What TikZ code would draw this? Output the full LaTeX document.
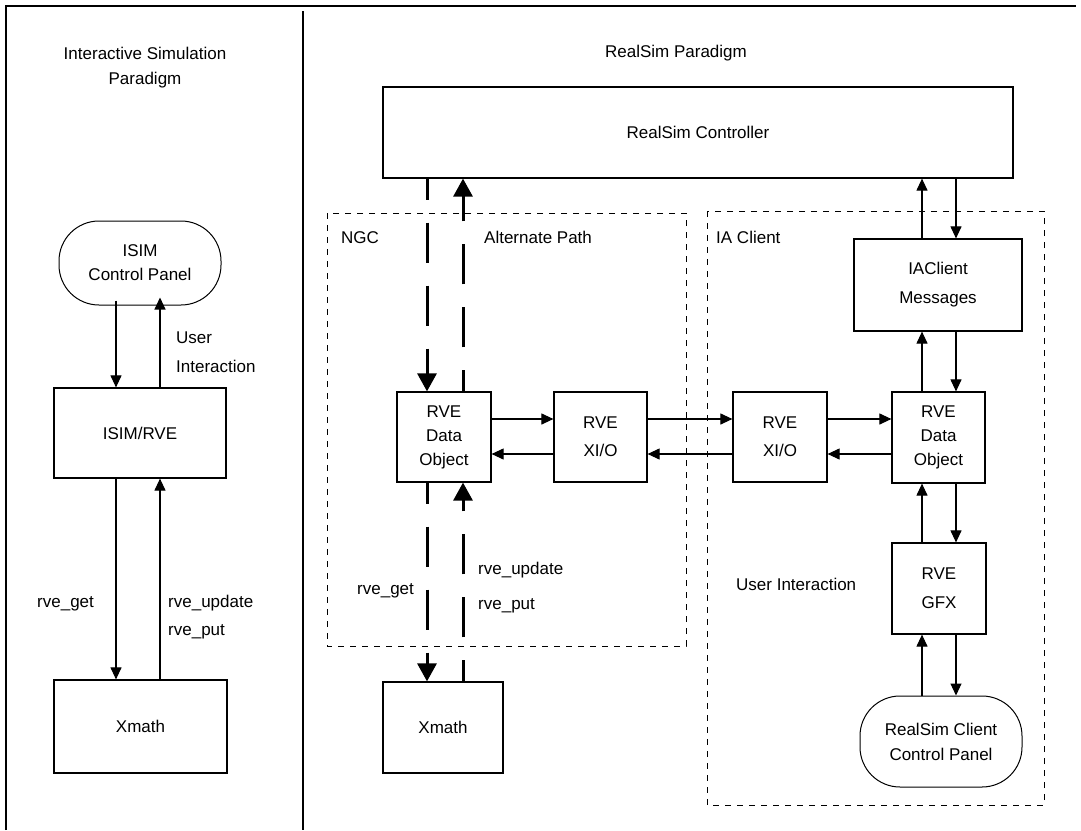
\documentclass[tikz,border=0pt]{standalone}
\usepackage{fontspec}
\setmainfont{Liberation Sans}
\usetikzlibrary{arrows.meta}
\begin{document}
\begin{tikzpicture}[x=1pt,y=-1pt,
  every node/.style={font=\fontsize{17}{24}\selectfont},
  box/.style={draw, line width=1.2pt, inner sep=0pt, align=center},
  panel/.style={draw, line width=1pt, inner sep=0pt, align=center, rounded corners=40pt},
  group/.style={draw, line width=1pt, dash pattern=on 6pt off 6pt},
  lbl/.style={inner sep=0pt, text height=12pt, text depth=0pt, anchor=west},
  arr/.style={line width=1.1pt, -{Triangle[length=12pt,width=11pt]}},
  thick arr/.style={line width=3pt, dash pattern=on 40pt off 23pt, dash phase=19pt, -{Triangle[length=18pt,width=19pt]}}
]
\useasboundingbox (0,0) rectangle (1081,830);
% frame
\draw[line width=2.5pt] (6,830) -- (6,6) -- (1076,6);
\draw[line width=1.2pt] (303,11) -- (303,830);

% titles
\node[align=center] (t1) at (145,68) {Interactive Simulation\\[1pt]Paradigm};
\node (t2) at (676,53) {RealSim Paradigm};

% column coordinates
\coordinate (cL1) at (116,0);
\coordinate (cL2) at (160,0);
\coordinate (cT1) at (427,0);
\coordinate (cT2) at (463,0);
\coordinate (cA) at (922,0);
\coordinate (cB) at (956,0);
\coordinate (r1) at (0,419);
\coordinate (r2) at (0,454);

% groups
\draw[group] (327,213) rectangle (686,646);
\draw[group] (707,211) rectangle (1044,805);
\node[lbl] (ngc) at (341,237) {NGC};
\node[lbl] (alt) at (484,237) {Alternate Path};
\node[lbl] (iac) at (716,237) {IA Client};

% left side
\node[panel, minimum width=162pt, minimum height=84pt] (isimcp) at (140,263) {ISIM\\Control Panel};
\node[box, minimum width=172pt, minimum height=90pt] (isimrve) at (140,433) {ISIM/RVE};
\node[box, minimum width=173pt, minimum height=93pt] (xmathL) at (140.5,726.5) {Xmath};
\node[lbl, align=left, text height=, text depth=] (ui1) at (176,352.5) {User\\[5pt]Interaction};
\node[lbl] (rg1) at (37,601) {rve\_get};
\node[lbl] (ru1) at (168,601) {rve\_update};
\node[lbl] (rp1) at (168,629) {rve\_put};

\draw[arr] ([yshift=5pt]isimcp.south -| cL1) -- (isimrve.north -| cL1);
\draw[arr] (isimrve.north -| cL2) -- ([yshift=8pt]isimcp.south -| cL2);
\draw[arr] (isimrve.south -| cL1) -- (xmathL.north -| cL1);
\draw[arr] (xmathL.north -| cL2) -- (isimrve.south -| cL2);

% right side
\node[box, minimum width=630pt, minimum height=91pt] (ctrl) at (698,132.5) {RealSim Controller};
\node[box, minimum width=94pt, minimum height=90pt] (do1) at (444,437) {RVE\\Data\\Object};
\node[box, minimum width=93pt, minimum height=90pt] (xio1) at (600.5,437) {RVE\\[4pt]XI/O};
\node[box, minimum width=94pt, minimum height=90pt] (xio2) at (780,437) {RVE\\[4pt]XI/O};
\node[box, minimum width=93pt, minimum height=91pt] (do2) at (938.5,437.5) {RVE\\Data\\Object};
\node[box, minimum width=168pt, minimum height=92pt] (msg) at (938,285) {IAClient\\[5pt]Messages};
\node[box, minimum width=94pt, minimum height=91pt] (gfx) at (939,588.5) {RVE\\[5pt]GFX};
\node[panel, minimum width=162pt, minimum height=91pt] (rcp) at (941,741.5) {RealSim Client\\[1pt]Control Panel};
\node[box, minimum width=120pt, minimum height=91pt] (xmathR) at (443,727.5) {Xmath};
\node[lbl] (ui2) at (736,584) {User Interaction};
\node[lbl] (rg2) at (357,588) {rve\_get};
\node[lbl] (ru2) at (478,568) {rve\_update};
\node[lbl] (rp2) at (478,603) {rve\_put};

% thick dashed paths
\draw[thick arr] (ctrl.south -| cT1) -- (do1.north -| cT1);
\draw[thick arr] (do1.north -| cT2) -- (ctrl.south -| cT2);
\draw[thick arr] (do1.south -| cT1) -- (xmathR.north -| cT1);
\draw[thick arr] (xmathR.north -| cT2) -- (do1.south -| cT2);

% horizontal arrows
\draw[arr] (do1.east |- r1) -- (xio1.west |- r1);
\draw[arr] (xio1.west |- r2) -- (do1.east |- r2);
\draw[arr] (xio1.east |- r1) -- (xio2.west |- r1);
\draw[arr] (xio2.west |- r2) -- (xio1.east |- r2);
\draw[arr] (xio2.east |- r1) -- (do2.west |- r1);
\draw[arr] (do2.west |- r2) -- (xio2.east |- r2);

% vertical chain on IA side
\draw[arr] (msg.north -| cA) -- (ctrl.south -| cA);
\draw[arr] (ctrl.south -| cB) -- (msg.north -| cB);
\draw[arr] (do2.north -| cA) -- (msg.south -| cA);
\draw[arr] (msg.south -| cB) -- (do2.north -| cB);
\draw[arr] (gfx.north -| cA) -- (do2.south -| cA);
\draw[arr] (do2.south -| cB) -- (gfx.north -| cB);
\draw[arr] (rcp.north -| cA) -- (gfx.south -| cA);
\draw[arr] (gfx.south -| cB) -- (rcp.north -| cB);
\end{tikzpicture}
\end{document}
